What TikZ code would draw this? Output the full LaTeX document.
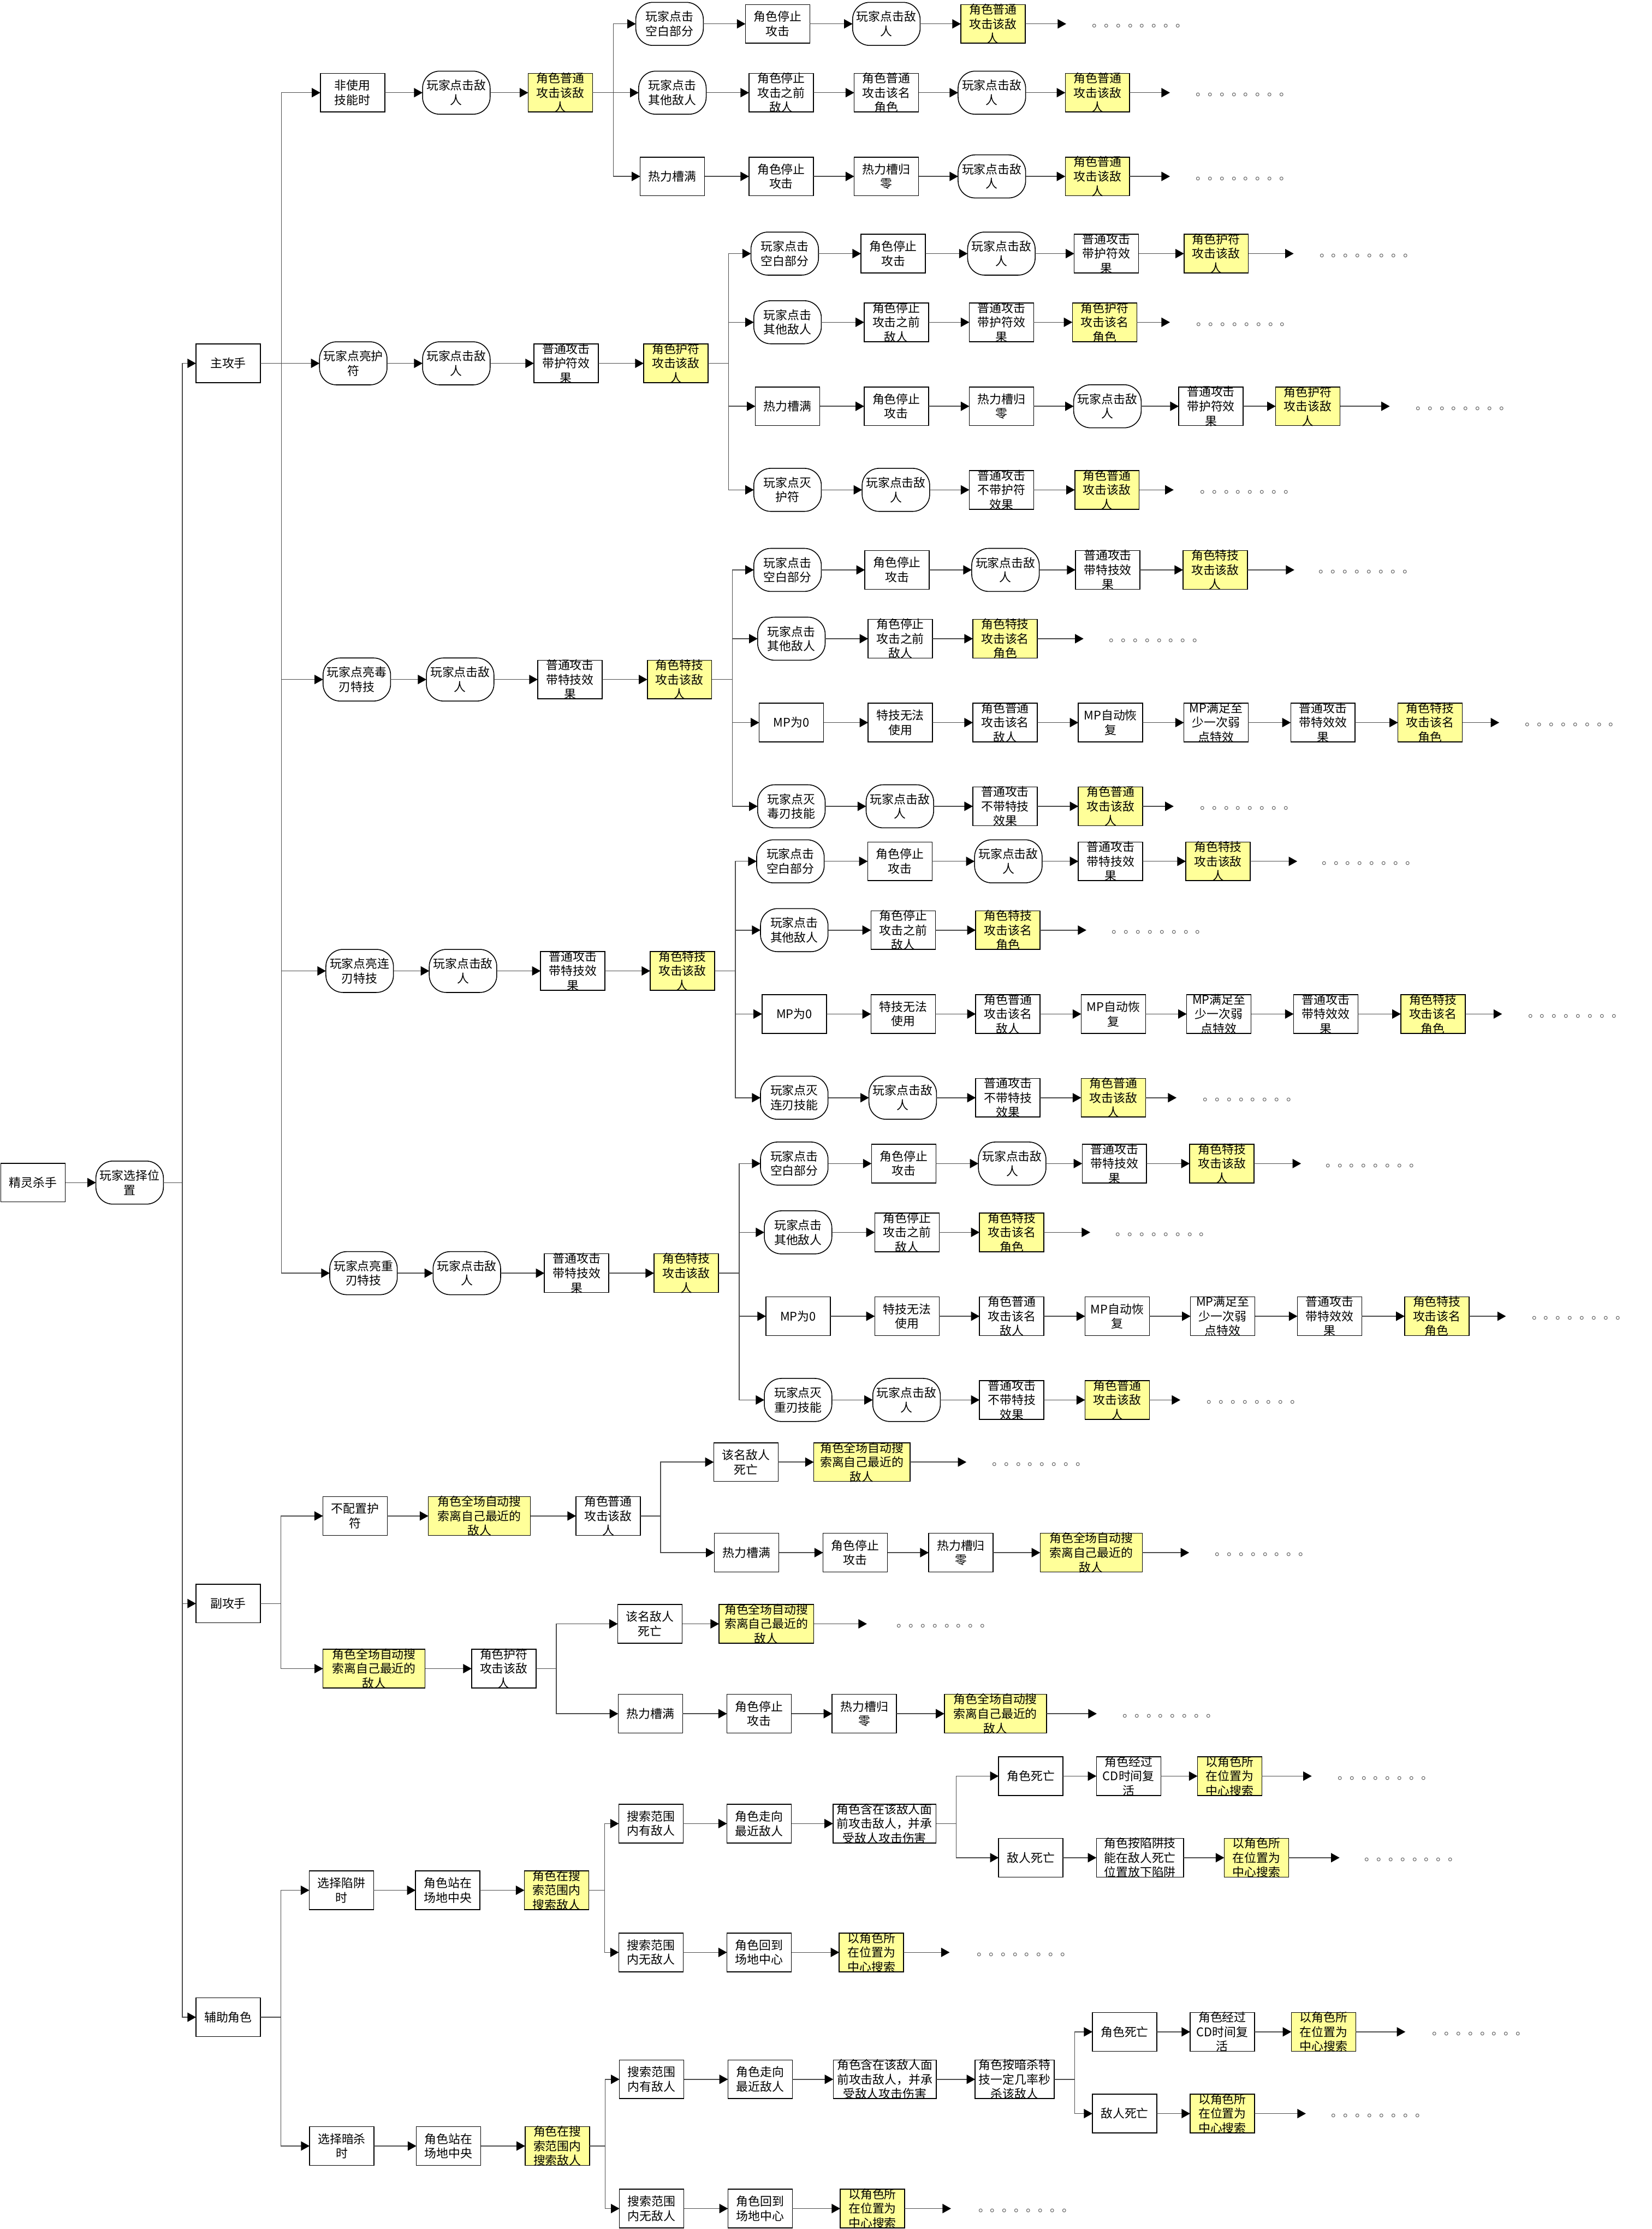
\documentclass[tikz,border=0pt]{standalone}
\usepackage{fontspec}
\newfontfamily\cjkf{Noto Sans CJK SC}
\usetikzlibrary{arrows.meta,shapes.misc}
\definecolor{yfill}{HTML}{FFFF99}
\definecolor{lnc}{gray}{0.3}
\newcommand\nfont{\fontsize{8.4}{10.2}\selectfont\cjkf}
\newcommand\dotrow{。。。。。。。。}
\newcommand\Tdj{玩家点击敌\\人}
\newcommand\Tkb{玩家点击\\空白部分}
\newcommand\Tqt{玩家点击\\其他敌人}
\newcommand\Ttz{角色停止\\攻击}
\newcommand\Ttq{角色停止\\攻击之前\\敌人}
\newcommand\Tpd{角色普通\\攻击该敌\\人}
\newcommand\Trl{热力槽满}
\newcommand\Trg{热力槽归\\零}
\newcommand\Thf{普通攻击\\带护符效\\果}
\newcommand\Thd{角色护符\\攻击该敌\\人}
\newcommand\Ttj{普通攻击\\带特技效\\果}
\newcommand\Ttd{角色特技\\攻击该敌\\人}
\newcommand\Ttm{角色特技\\攻击该名\\角色}
\newcommand\Tqc{角色全场自动搜\\索离自己最近的\\敌人}
\newcommand\Tzx{以角色所\\在位置为\\中心搜索}
\newcommand\Thm{角色含在该敌人面\\前攻击敌人，并承\\受敌人攻击伤害}
\tikzset{
 base/.style={draw=black, line width=0.6pt, inner sep=0pt, outer sep=0pt},
 bx/.style={base, rectangle, minimum width=45.3pt, minimum height=27.2pt},
 yb/.style={bx, fill=yfill},
 rb/.style={base, rectangle, rounded corners=12pt, minimum width=47.5pt, minimum height=30.3pt},
 wd/.style={minimum width=#1pt},
 T/.style={label={center:{#1}}},
 arr/.style={draw=lnc, line width=0.55pt, -{Triangle[length=6pt,width=6.5pt,color=black]}},
 every label/.style={align=center, font=\nfont, inner sep=0pt, text=black},
 dt/.style={anchor=west, font=\nfont, inner sep=0pt, text=black!65},
}
\newcommand\skillsec[5]{%
\begin{scope}[shift={(#2,#3)}]
\node[rb,T={#4}] (#1m0) at (251,478) {};
\node[rb,T=\Tdj] (#1m1) at (323.7,478) {};
\node[bx,T=\Ttj] (#1m2) at (400.9,478) {};
\node[yb,T=\Ttd] (#1m3) at (478,478) {};
\coordinate (#1s) at (515.2,478);
\node[rb,T=\Tkb] (#1a1) at (554,400.9) {};
\node[bx,T=\Ttz] (#1a2) at (631,400.9) {};
\node[rb,T=\Tdj] (#1a3) at (707.3,400.9) {};
\node[bx,T=\Ttj] (#1a4) at (779.2,400.9) {};
\node[yb,T=\Ttd] (#1a5) at (854.8,400.9) {};
\coordinate (#1at) at (910.5,400.9);
\node[dt] (#1ad) at (927.6,402.4) {\dotrow};
\node[rb,T=\Tqt] (#1b1) at (556.7,449.3) {};
\node[bx,T=\Ttq] (#1b2) at (633.3,449.3) {};
\node[yb,T=\Ttm] (#1b3) at (707,449.3) {};
\coordinate (#1bt) at (762.2,449.3);
\node[dt] (#1bd) at (780,450.8) {\dotrow};
\node[bx,T={MP为0}] (#1c1) at (556.7,508.3) {};
\node[bx,T={特技无法\\使用}] (#1c2) at (633.3,508.3) {};
\node[bx,T={角色普通\\攻击该名\\敌人}] (#1c3) at (707,508.3) {};
\node[bx,T={MP自动恢\\复}] (#1c4) at (781.2,508.3) {};
\node[bx,T={MP满足至\\少一次弱\\点特效}] (#1c5) at (855.4,508.3) {};
\node[bx,T={普通攻击\\带特效效\\果}] (#1c6) at (930.6,508.3) {};
\node[yb,T=\Ttm] (#1c7) at (1006,508.3) {};
\coordinate (#1ct) at (1054.6,508.3);
\node[dt] (#1cd) at (1072.7,509.8) {\dotrow};
\node[rb,T={#5}] (#1d1) at (556.7,567.2) {};
\node[rb,T=\Tdj] (#1d2) at (633,567.2) {};
\node[bx,T={普通攻击\\不带特技\\效果}] (#1d3) at (707,567.2) {};
\node[yb,T=\Tpd] (#1d4) at (781.2,567.2) {};
\coordinate (#1dt) at (825.6,567.2);
\node[dt] (#1dd) at (844,568.7) {\dotrow};
\end{scope}
\draw[arr] (#1m0.east) -- (#1m1.west);
\draw[arr] (#1m1.east) -- (#1m2.west);
\draw[arr] (#1m2.east) -- (#1m3.west);
\draw[arr] (#1m3.east) -- (#1m3.east -| #1s) |- (#1a1.west);
\draw[arr] (#1m3.east) -- (#1m3.east -| #1s) |- (#1b1.west);
\draw[arr] (#1m3.east) -- (#1m3.east -| #1s) |- (#1c1.west);
\draw[arr] (#1m3.east) -- (#1m3.east -| #1s) |- (#1d1.west);
\draw[arr] (#1a1.east) -- (#1a2.west);
\draw[arr] (#1a2.east) -- (#1a3.west);
\draw[arr] (#1a3.east) -- (#1a4.west);
\draw[arr] (#1a4.east) -- (#1a5.west);
\draw[arr] (#1a5.east) -- (#1at);
\draw[arr] (#1b1.east) -- (#1b2.west);
\draw[arr] (#1b2.east) -- (#1b3.west);
\draw[arr] (#1b3.east) -- (#1bt);
\draw[arr] (#1c1.east) -- (#1c2.west);
\draw[arr] (#1c2.east) -- (#1c3.west);
\draw[arr] (#1c3.east) -- (#1c4.west);
\draw[arr] (#1c4.east) -- (#1c5.west);
\draw[arr] (#1c5.east) -- (#1c6.west);
\draw[arr] (#1c6.east) -- (#1c7.west);
\draw[arr] (#1c7.east) -- (#1ct);
\draw[arr] (#1d1.east) -- (#1d2.west);
\draw[arr] (#1d2.east) -- (#1d3.west);
\draw[arr] (#1d3.east) -- (#1d4.west);
\draw[arr] (#1d4.east) -- (#1dt);
}
\begin{document}
\begin{tikzpicture}[x=1pt,y=-1pt]
\fill[white] (0,0) rectangle (1162,1568);
\useasboundingbox (0,0) rectangle (1162,1568);
% root and spine
\node[bx,T=精灵杀手] (root) at (23.3,831.9) {};
\node[rb,T={玩家选择位\\置}] (sel) at (91.2,831.9) {};
\coordinate (sp) at (128.3,0);
\node[bx,T=主攻手] (zg) at (160.5,255.6) {};
\node[bx,T=副攻手] (fg) at (160.5,1128) {};
\node[bx,T=辅助角色] (fz) at (160.5,1419) {};
\draw[arr] (root.east) -- (sel.west);
\draw[arr] (sel.east) -- (sel.east -| sp) |- (zg.west);
\draw[arr] (sel.east) -- (sel.east -| sp) |- (fg.west);
\draw[arr] (sel.east) -- (sel.east -| sp) |- (fz.west);
\coordinate (szg) at (198,0);
\coordinate (sfg) at (197.5,0);
\coordinate (sfz) at (197.5,0);
% ---- section A
\node[bx,T={非使用\\技能时}] (a0) at (248,65.2) {};
\node[rb,T=\Tdj] (a1) at (321,65.2) {};
\node[yb,T=\Tpd] (a2) at (394.2,65.2) {};
\coordinate (sa) at (431.5,0);
\node[rb,T=\Tkb] (a11) at (471,16.8) {};
\node[bx,T=\Ttz] (a12) at (547,16.8) {};
\node[rb,T=\Tdj] (a13) at (623.5,16.8) {};
\node[yb,T=\Tpd] (a14) at (698.5,16.8) {};
\coordinate (a1t) at (750,16.8);
\node[dt] (a1d) at (768,18.3) {\dotrow};
\node[rb,T=\Tqt] (a21) at (473,65.2) {};
\node[bx,T=\Ttq] (a22) at (549.5,65.2) {};
\node[bx,T={角色普通\\攻击该名\\角色}] (a23) at (623.5,65.2) {};
\node[rb,T=\Tdj] (a24) at (697.7,65.2) {};
\node[yb,T=\Tpd] (a25) at (772,65.2) {};
\coordinate (a2t) at (823,65.2);
\node[dt] (a2d) at (841,66.7) {\dotrow};
\node[bx,T=\Trl] (a31) at (473,124.1) {};
\node[bx,T=\Ttz] (a32) at (549.5,124.1) {};
\node[bx,T=\Trg] (a33) at (623.5,124.1) {};
\node[rb,T=\Tdj] (a34) at (697.7,124.1) {};
\node[yb,T=\Tpd] (a35) at (772,124.1) {};
\coordinate (a3t) at (823,124.1);
\node[dt] (a3d) at (841,125.6) {\dotrow};
\draw[arr] (zg.east) -- (zg.east -| szg) |- (a0.west);
\draw[arr] (a0.east) -- (a1.west);
\draw[arr] (a1.east) -- (a2.west);
\draw[arr] (a2.east) -- (a2.east -| sa) |- (a11.west);
\draw[arr] (a2.east) -- (a2.east -| sa) |- (a21.west);
\draw[arr] (a2.east) -- (a2.east -| sa) |- (a31.west);
\draw[arr] (a11.east) -- (a12.west);
\draw[arr] (a12.east) -- (a13.west);
\draw[arr] (a13.east) -- (a14.west);
\draw[arr] (a14.east) -- (a1t);
\draw[arr] (a21.east) -- (a22.west);
\draw[arr] (a22.east) -- (a23.west);
\draw[arr] (a23.east) -- (a24.west);
\draw[arr] (a24.east) -- (a25.west);
\draw[arr] (a25.east) -- (a2t);
\draw[arr] (a31.east) -- (a32.west);
\draw[arr] (a32.east) -- (a33.west);
\draw[arr] (a33.east) -- (a34.west);
\draw[arr] (a34.east) -- (a35.west);
\draw[arr] (a35.east) -- (a3t);
% ---- section B
\node[rb,T={玩家点亮护\\符}] (b0) at (248.5,255.6) {};
\node[rb,T=\Tdj] (b1) at (321,255.6) {};
\node[bx,T=\Thf] (b2) at (398.2,255.6) {};
\node[yb,T=\Thd] (b3) at (475.4,255.6) {};
\coordinate (sb) at (512.4,0);
\node[rb,T=\Tkb] (b11) at (552,178.4) {};
\node[bx,T=\Ttz] (b12) at (628.3,178.4) {};
\node[rb,T=\Tdj] (b13) at (704.4,178.4) {};
\node[bx,T=\Thf] (b14) at (778.3,178.4) {};
\node[yb,T=\Thd] (b15) at (855.5,178.4) {};
\coordinate (b1t) at (910,178.4);
\node[dt] (b1d) at (928,179.9) {\dotrow};
\node[rb,T=\Tqt] (b21) at (554,226.7) {};
\node[bx,T=\Ttq] (b22) at (630.5,226.7) {};
\node[bx,T=\Thf] (b23) at (704.5,226.7) {};
\node[yb,T={角色护符\\攻击该名\\角色}] (b24) at (777,226.7) {};
\coordinate (b2t) at (823,226.7);
\node[dt] (b2d) at (841.5,228.2) {\dotrow};
\node[bx,T=\Trl] (b31) at (554,285.8) {};
\node[bx,T=\Ttz] (b32) at (630.5,285.8) {};
\node[bx,T=\Trg] (b33) at (704.5,285.8) {};
\node[rb,T=\Tdj] (b34) at (779,285.8) {};
\node[bx,T=\Thf] (b35) at (851.8,285.8) {};
\node[yb,T=\Thd] (b36) at (920,285.8) {};
\coordinate (b3t) at (977.6,285.8);
\node[dt] (b3d) at (995.7,287.3) {\dotrow};
\node[rb,T={玩家点灭\\护符}] (b41) at (554,344.6) {};
\node[rb,T=\Tdj] (b42) at (630.2,344.6) {};
\node[bx,T={普通攻击\\不带护符\\效果}] (b43) at (704.5,344.6) {};
\node[yb,T=\Tpd] (b44) at (778.7,344.6) {};
\coordinate (b4t) at (825.6,344.6);
\node[dt] (b4d) at (844,346.1) {\dotrow};
\draw[arr] (zg.east) -- (zg.east -| szg) |- (b0.west);
\draw[arr] (b0.east) -- (b1.west);
\draw[arr] (b1.east) -- (b2.west);
\draw[arr] (b2.east) -- (b3.west);
\draw[arr] (b3.east) -- (b3.east -| sb) |- (b11.west);
\draw[arr] (b3.east) -- (b3.east -| sb) |- (b21.west);
\draw[arr] (b3.east) -- (b3.east -| sb) |- (b31.west);
\draw[arr] (b3.east) -- (b3.east -| sb) |- (b41.west);
\draw[arr] (b11.east) -- (b12.west);
\draw[arr] (b12.east) -- (b13.west);
\draw[arr] (b13.east) -- (b14.west);
\draw[arr] (b14.east) -- (b15.west);
\draw[arr] (b15.east) -- (b1t);
\draw[arr] (b21.east) -- (b22.west);
\draw[arr] (b22.east) -- (b23.west);
\draw[arr] (b23.east) -- (b24.west);
\draw[arr] (b24.east) -- (b2t);
\draw[arr] (b31.east) -- (b32.west);
\draw[arr] (b32.east) -- (b33.west);
\draw[arr] (b33.east) -- (b34.west);
\draw[arr] (b34.east) -- (b35.west);
\draw[arr] (b35.east) -- (b36.west);
\draw[arr] (b36.east) -- (b3t);
\draw[arr] (b41.east) -- (b42.west);
\draw[arr] (b42.east) -- (b43.west);
\draw[arr] (b43.east) -- (b44.west);
\draw[arr] (b44.east) -- (b4t);
% ---- sections C, D, E
\skillsec{C}{0}{0}{玩家点亮毒\\刃特技}{玩家点灭\\毒刃技能}
\skillsec{D}{2}{205}{玩家点亮连\\刃特技}{玩家点灭\\连刃技能}
\skillsec{E}{4.7}{417.6}{玩家点亮重\\刃特技}{玩家点灭\\重刃技能}
\draw[arr] (zg.east) -- (zg.east -| szg) |- (Cm0.west);
\draw[arr] (zg.east) -- (zg.east -| szg) |- (Dm0.west);
\draw[arr] (zg.east) -- (zg.east -| szg) |- (Em0.west);
% ---- section F
\node[bx,T={不配置护\\符}] (f0) at (249.8,1066.4) {};
\node[yb,wd=71.8,T=\Tqc] (f1) at (337.2,1066.4) {};
\node[bx,T=\Tpd] (f2) at (427.8,1066.4) {};
\coordinate (fs) at (464.7,0);
\node[bx,T={该名敌人\\死亡}] (f11) at (524.7,1028.5) {};
\node[yb,wd=67.8,T=\Tqc] (f12) at (606.3,1028.5) {};
\coordinate (f1t) at (679.8,1028.5);
\node[dt] (f1d) at (697.7,1030) {\dotrow};
\node[bx,T=\Trl] (f21) at (525.2,1092.2) {};
\node[bx,T=\Ttz] (f22) at (601.6,1092.2) {};
\node[bx,T=\Trg] (f23) at (675.9,1092.2) {};
\node[yb,wd=71.8,T=\Tqc] (f24) at (767.6,1092.2) {};
\coordinate (f2t) at (836.5,1092.2);
\node[dt] (f2d) at (854.5,1093.7) {\dotrow};
\draw[arr] (fg.east) -- (fg.east -| sfg) |- (f0.west);
\draw[arr] (f0.east) -- (f1.west);
\draw[arr] (f1.east) -- (f2.west);
\draw[arr] (f2.east) -- (f2.east -| fs) |- (f11.west);
\draw[arr] (f2.east) -- (f2.east -| fs) |- (f21.west);
\draw[arr] (f11.east) -- (f12.west);
\draw[arr] (f12.east) -- (f1t);
\draw[arr] (f21.east) -- (f22.west);
\draw[arr] (f22.east) -- (f23.west);
\draw[arr] (f23.east) -- (f24.west);
\draw[arr] (f24.east) -- (f2t);
% ---- section G
\node[yb,wd=71.8,T=\Tqc] (g0) at (263.1,1173.8) {};
\node[bx,T=\Thd] (g1) at (354.4,1173.8) {};
\coordinate (gs) at (391.3,0);
\node[bx,T={该名敌人\\死亡}] (g11) at (457.2,1142.3) {};
\node[yb,wd=66.6,T=\Tqc] (g12) at (539.1,1142.3) {};
\coordinate (g1t) at (609.8,1142.3);
\node[dt] (g1d) at (630.6,1143.8) {\dotrow};
\node[bx,T=\Trl] (g21) at (457.5,1205.5) {};
\node[bx,T=\Ttz] (g22) at (534,1205.5) {};
\node[bx,T=\Trg] (g23) at (608,1205.5) {};
\node[yb,wd=71.8,T=\Tqc] (g24) at (700.2,1205.5) {};
\coordinate (g2t) at (771.5,1205.5);
\node[dt] (g2d) at (789.5,1207) {\dotrow};
\draw[arr] (fg.east) -- (fg.east -| sfg) |- (g0.west);
\draw[arr] (g0.east) -- (g1.west);
\draw[arr] (g1.east) -- (g1.east -| gs) |- (g11.west);
\draw[arr] (g1.east) -- (g1.east -| gs) |- (g21.west);
\draw[arr] (g11.east) -- (g12.west);
\draw[arr] (g12.east) -- (g1t);
\draw[arr] (g21.east) -- (g22.west);
\draw[arr] (g22.east) -- (g23.west);
\draw[arr] (g23.east) -- (g24.west);
\draw[arr] (g24.east) -- (g2t);
% ---- section H
\node[bx,T={选择陷阱\\时}] (h0) at (240.2,1329.7) {};
\node[bx,T={角色站在\\场地中央}] (h1) at (315,1329.7) {};
\node[yb,T={角色在搜\\索范围内\\搜索敌人}] (h2) at (391.5,1329.7) {};
\coordinate (hs) at (425.2,0);
\node[bx,T={搜索范围\\内有敌人}] (h11) at (457.9,1282.8) {};
\node[bx,T={角色走向\\最近敌人}] (h12) at (534,1282.8) {};
\node[bx,wd=72.5,T=\Thm] (h13) at (622.2,1282.8) {};
\coordinate (hs2) at (672.7,0);
\node[bx,T=角色死亡] (h14) at (725.1,1249.4) {};
\node[bx,T={角色经过\\CD时间复\\活}] (h15) at (793.9,1249.4) {};
\node[yb,T=\Tzx] (h16) at (865,1249.4) {};
\coordinate (h1t) at (922.7,1249.4);
\node[dt] (h1d) at (940.8,1250.9) {\dotrow};
\node[bx,T=敌人死亡] (h17) at (725.1,1306.8) {};
\node[bx,wd=61.3,T={角色按陷阱技\\能在敌人死亡\\位置放下陷阱}] (h18) at (801.9,1306.8) {};
\node[yb,T=\Tzx] (h19) at (883.8,1306.8) {};
\coordinate (h2t) at (942.3,1306.8);
\node[dt] (h2d) at (959.7,1308.3) {\dotrow};
\node[bx,T={搜索范围\\内无敌人}] (h21) at (457.9,1373.4) {};
\node[bx,T={角色回到\\场地中心}] (h22) at (534,1373.4) {};
\node[yb,T=\Tzx] (h23) at (613,1373.4) {};
\coordinate (h3t) at (668,1373.4);
\node[dt] (h3d) at (687,1374.9) {\dotrow};
\draw[arr] (fz.east) -- (fz.east -| sfz) |- (h0.west);
\draw[arr] (h0.east) -- (h1.west);
\draw[arr] (h1.east) -- (h2.west);
\draw[arr] (h2.east) -- (h2.east -| hs) |- (h11.west);
\draw[arr] (h2.east) -- (h2.east -| hs) |- (h21.west);
\draw[arr] (h11.east) -- (h12.west);
\draw[arr] (h12.east) -- (h13.west);
\draw[arr] (h13.east) -- (h13.east -| hs2) |- (h14.west);
\draw[arr] (h13.east) -- (h13.east -| hs2) |- (h17.west);
\draw[arr] (h14.east) -- (h15.west);
\draw[arr] (h15.east) -- (h16.west);
\draw[arr] (h16.east) -- (h1t);
\draw[arr] (h17.east) -- (h18.west);
\draw[arr] (h18.east) -- (h19.west);
\draw[arr] (h19.east) -- (h2t);
\draw[arr] (h21.east) -- (h22.west);
\draw[arr] (h22.east) -- (h23.west);
\draw[arr] (h23.east) -- (h3t);
% ---- section K
\node[bx,T={选择暗杀\\时}] (k0) at (240.4,1509.6) {};
\node[bx,T={角色站在\\场地中央}] (k1) at (315.5,1509.6) {};
\node[yb,T={角色在搜\\索范围内\\搜索敌人}] (k2) at (392,1509.6) {};
\coordinate (ks) at (425.8,0);
\node[bx,T={搜索范围\\内有敌人}] (k11) at (458.4,1462.7) {};
\node[bx,T={角色走向\\最近敌人}] (k12) at (534.7,1462.7) {};
\node[bx,wd=72.5,T=\Thm] (k13) at (622.4,1462.7) {};
\node[bx,wd=55.5,T={角色按暗杀特\\技一定几率秒\\杀该敌人}] (k14) at (713.7,1462.7) {};
\coordinate (ks2) at (756,0);
\node[bx,T=角色死亡] (k15) at (791.1,1429.3) {};
\node[bx,T={角色经过\\CD时间复\\活}] (k16) at (859.8,1429.3) {};
\node[yb,T=\Tzx] (k17) at (931,1429.3) {};
\coordinate (k1t) at (988.6,1429.3);
\node[dt] (k1d) at (1007.3,1430.8) {\dotrow};
\node[bx,T=敌人死亡] (k18) at (791.1,1486.8) {};
\node[yb,T=\Tzx] (k19) at (859.8,1486.8) {};
\coordinate (k2t) at (918.6,1486.8);
\node[dt] (k2d) at (936.4,1488.3) {\dotrow};
\node[bx,T={搜索范围\\内无敌人}] (k21) at (458.4,1553.6) {};
\node[bx,T={角色回到\\场地中心}] (k22) at (534.7,1553.6) {};
\node[yb,T=\Tzx] (k23) at (613.7,1553.6) {};
\coordinate (k3t) at (669,1553.6);
\node[dt] (k3d) at (688,1555.1) {\dotrow};
\draw[arr] (fz.east) -- (fz.east -| sfz) |- (k0.west);
\draw[arr] (k0.east) -- (k1.west);
\draw[arr] (k1.east) -- (k2.west);
\draw[arr] (k2.east) -- (k2.east -| ks) |- (k11.west);
\draw[arr] (k2.east) -- (k2.east -| ks) |- (k21.west);
\draw[arr] (k11.east) -- (k12.west);
\draw[arr] (k12.east) -- (k13.west);
\draw[arr] (k13.east) -- (k14.west);
\draw[arr] (k14.east) -- (k14.east -| ks2) |- (k15.west);
\draw[arr] (k14.east) -- (k14.east -| ks2) |- (k18.west);
\draw[arr] (k15.east) -- (k16.west);
\draw[arr] (k16.east) -- (k17.west);
\draw[arr] (k17.east) -- (k1t);
\draw[arr] (k18.east) -- (k19.west);
\draw[arr] (k19.east) -- (k2t);
\draw[arr] (k21.east) -- (k22.west);
\draw[arr] (k22.east) -- (k23.west);
\draw[arr] (k23.east) -- (k3t);
\end{tikzpicture}
\end{document}
